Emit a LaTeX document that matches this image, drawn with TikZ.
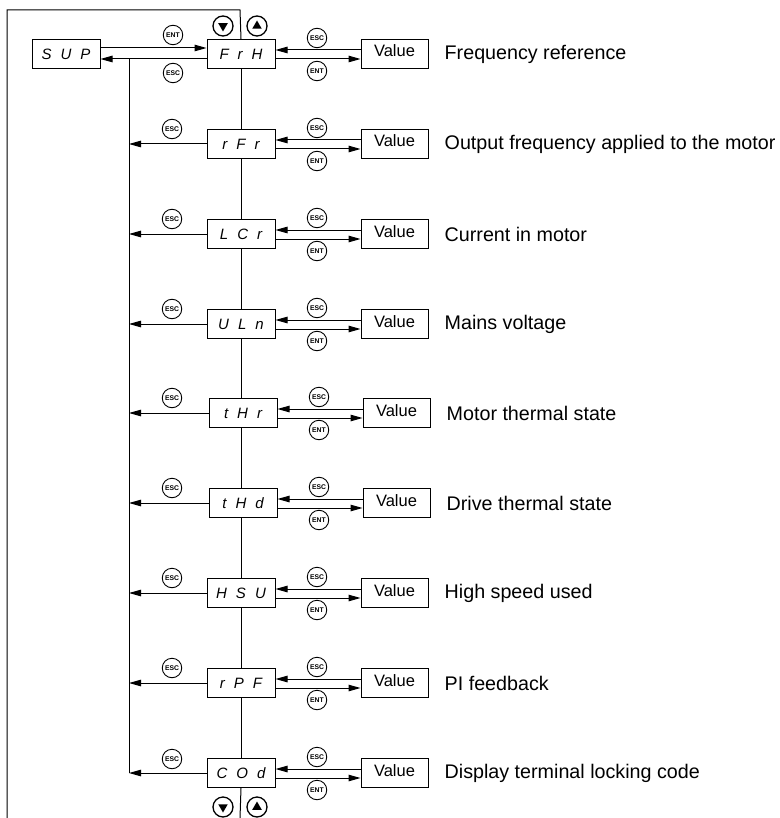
\documentclass[tikz,border=0pt]{standalone}
\usepackage{fontspec}
\setmainfont{Liberation Sans}
\usetikzlibrary{positioning, arrows.meta, shapes.geometric}

\tikzset{
  codebox/.style={draw, line width=1pt, minimum width=68pt, minimum height=29pt, inner sep=0pt,
    font=\fontsize{15}{15}\selectfont\itshape},
  valbox/.style={draw, line width=1pt, minimum width=67pt, minimum height=29pt, inner sep=0pt,
    text height=12pt, text depth=6pt, font=\fontsize{16.5}{17}\selectfont, right=85pt of #1},
  infotext/.style={anchor=west, inner sep=0pt, font=\fontsize{19.7}{20}\selectfont, right=16pt of #1},
  keybtn/.style={draw, circle, line width=0.9pt, minimum size=19.5pt, inner sep=0pt,
    font=\fontsize{6.8}{7}\selectfont\bfseries},
  navbtn/.style={draw, circle, line width=1.3pt, minimum size=20pt, inner sep=0pt},
  navtip/.style={regular polygon, regular polygon sides=3, fill, draw=none, inner sep=0pt, minimum size=11pt},
  arr/.style={-{Triangle[length=12pt,width=6.5pt]}, line width=1pt},
  wire/.style={line width=1pt}
}
\newcommand{\segs}[3]{#1\hspace{0.6em}#2\hspace{0.6em}#3}

\begin{document}
\begin{tikzpicture}[x=1pt, y=-1pt]
    \useasboundingbox (0,0) rectangle (779,818);

    % ----------------------------------------------------
    % Code boxes on the spine
    % ----------------------------------------------------
    \node[codebox] (sup) at (66,54) {\segs SUP};
    \node[codebox] (frh) at (241,54) {\segs FrH};
    \node[codebox] (rfr) at (241,144) {\segs rFr};
    \node[codebox] (lcr) at (241,234) {\segs LCr};
    \node[codebox] (uln) at (241,324) {\segs ULn};
    \node[codebox] (thr) at (243,413) {\segs tHr};
    \node[codebox] (thd) at (243,503) {\segs tHd};
    \node[codebox] (hsu) at (241,593) {\segs HSU};
    \node[codebox] (rpf) at (241,683) {\segs rPF};
    \node[codebox] (cod) at (241,773) {\segs COd};

    % Value boxes and descriptions
    \node[valbox=frh] (valfrh) {Value};
    \node[valbox=rfr] (valrfr) {Value};
    \node[valbox=lcr] (vallcr) {Value};
    \node[valbox=uln] (valuln) {Value};
    \node[valbox=thr] (valthr) {Value};
    \node[valbox=thd] (valthd) {Value};
    \node[valbox=hsu] (valhsu) {Value};
    \node[valbox=rpf] (valrpf) {Value};
    \node[valbox=cod] (valcod) {Value};

    \node[infotext=valfrh] (txtfrh) {Frequency reference};
    \node[infotext=valrfr] (txtrfr) {Output frequency applied to the motor};
    \node[infotext=vallcr] (txtlcr) {Current in motor};
    \node[infotext=valuln] (txtuln) {Mains voltage};
    \node[infotext=valthr] (txtthr) {Motor thermal state};
    \node[infotext=valthd] (txtthd) {Drive thermal state};
    \node[infotext=valhsu] (txthsu) {High speed used};
    \node[infotext=valrpf] (txtrpf) {PI feedback};
    \node[infotext=valcod] (txtcod) {Display terminal locking code};

    % ----------------------------------------------------
    % Frame, spine and ESC return line
    % ----------------------------------------------------
    \coordinate (frametl) at (7,10);
    \coordinate (framebl) at (7,818);
    \coordinate (spinetop) at (240,10);
    \coordinate (spinebot) at (240,818);
    \coordinate (trunktop) at (129,59);
    \coordinate (trunkbot) at (129,773);

    \draw[wire] (framebl) -- (frametl) -- (spinetop) -- (frh.north);
    \draw[wire] (frh.south) -- (rfr.north);
    \draw[wire] (rfr.south) -- (lcr.north);
    \draw[wire] (lcr.south) -- (uln.north);
    \draw[wire] (uln.south) -- (uln.south |- thr.north);
    \draw[wire] (uln.south |- thr.south) -- (uln.south |- thd.north);
    \draw[wire] (uln.south |- thd.south) -- (hsu.north);
    \draw[wire] (hsu.south) -- (rpf.north);
    \draw[wire] (rpf.south) -- (cod.north);
    \draw[wire] (cod.south) -- (spinebot);
    \draw[wire] (trunktop) -- (trunkbot);

    % SUP <-> FrH
    \draw[arr] ([yshift=6pt]sup.east) -- ([yshift=6pt]frh.west);
    \draw[arr] ([yshift=-5pt]frh.west) -- ([yshift=-5pt]sup.east);
    \node[keybtn] (entsup) at (173,35) {ENT};
    \node[keybtn] (escsup) at (173,73) {ESC};

    % ESC back to the return line
    \draw[arr] (rfr.west) -- (rfr.west -| trunktop);
    \draw[arr] (lcr.west) -- (lcr.west -| trunktop);
    \draw[arr] (uln.west) -- (uln.west -| trunktop);
    \draw[arr] (thr.west) -- (thr.west -| trunktop);
    \draw[arr] (thd.west) -- (thd.west -| trunktop);
    \draw[arr] (hsu.west) -- (hsu.west -| trunktop);
    \draw[arr] (rpf.west) -- (rpf.west -| trunktop);
    \draw[arr] (cod.west) -- (cod.west -| trunktop);
    \node[keybtn] (backrfr) at (172,129) {ESC};
    \node[keybtn] (backlcr) at (172,219) {ESC};
    \node[keybtn] (backuln) at (172,309) {ESC};
    \node[keybtn] (backthr) at (172,398) {ESC};
    \node[keybtn] (backthd) at (172,488) {ESC};
    \node[keybtn] (backhsu) at (172,578) {ESC};
    \node[keybtn] (backrpf) at (172,668) {ESC};
    \node[keybtn] (backcod) at (172,759) {ESC};

    % ----------------------------------------------------
    % Code <-> Value
    % ----------------------------------------------------
    \draw[arr] ([yshift=4pt]valfrh.west) -- ([yshift=4pt]frh.east);
    \draw[arr] ([yshift=-5pt]frh.east) -- ([yshift=-5pt]valfrh.west);
    \draw[arr] ([yshift=4pt]valrfr.west) -- ([yshift=4pt]rfr.east);
    \draw[arr] ([yshift=-5pt]rfr.east) -- ([yshift=-5pt]valrfr.west);
    \draw[arr] ([yshift=4pt]vallcr.west) -- ([yshift=4pt]lcr.east);
    \draw[arr] ([yshift=-5pt]lcr.east) -- ([yshift=-5pt]vallcr.west);
    \draw[arr] ([yshift=4pt]valuln.west) -- ([yshift=4pt]uln.east);
    \draw[arr] ([yshift=-5pt]uln.east) -- ([yshift=-5pt]valuln.west);
    \draw[arr] ([yshift=4pt]valthr.west) -- ([yshift=4pt]thr.east);
    \draw[arr] ([yshift=-5pt]thr.east) -- ([yshift=-5pt]valthr.west);
    \draw[arr] ([yshift=4pt]valthd.west) -- ([yshift=4pt]thd.east);
    \draw[arr] ([yshift=-5pt]thd.east) -- ([yshift=-5pt]valthd.west);
    \draw[arr] ([yshift=4pt]valhsu.west) -- ([yshift=4pt]hsu.east);
    \draw[arr] ([yshift=-5pt]hsu.east) -- ([yshift=-5pt]valhsu.west);
    \draw[arr] ([yshift=4pt]valrpf.west) -- ([yshift=4pt]rpf.east);
    \draw[arr] ([yshift=-5pt]rpf.east) -- ([yshift=-5pt]valrpf.west);
    \draw[arr] ([yshift=4pt]valcod.west) -- ([yshift=4pt]cod.east);
    \draw[arr] ([yshift=-5pt]cod.east) -- ([yshift=-5pt]valcod.west);

    \node[keybtn] (escfrh) at (317,38) {ESC};  \node[keybtn] (entfrh) at (317,71) {ENT};
    \node[keybtn] (escrfr) at (317,128) {ESC}; \node[keybtn] (entrfr) at (317,161) {ENT};
    \node[keybtn] (esclcr) at (317,218) {ESC}; \node[keybtn] (entlcr) at (317,251) {ENT};
    \node[keybtn] (esculn) at (317,308) {ESC}; \node[keybtn] (entuln) at (317,341) {ENT};
    \node[keybtn] (escthr) at (319,397) {ESC}; \node[keybtn] (entthr) at (319,430) {ENT};
    \node[keybtn] (escthd) at (319,487) {ESC}; \node[keybtn] (entthd) at (319,520) {ENT};
    \node[keybtn] (eschsu) at (317,577) {ESC}; \node[keybtn] (enthsu) at (317,610) {ENT};
    \node[keybtn] (escrpf) at (317,667) {ESC}; \node[keybtn] (entrpf) at (317,700) {ENT};
    \node[keybtn] (esccod) at (317,757) {ESC}; \node[keybtn] (entcod) at (317,790) {ENT};

    % ----------------------------------------------------
    % Up / down keys
    % ----------------------------------------------------
    \node[navbtn] (dntop) at (223,26) {};
    \node[navbtn] (uptop) at (257,26) {};
    \node[navbtn] (dnbot) at (223,807) {};
    \node[navbtn] (upbot) at (257,807) {};
    \node[navtip, shape border rotate=180] at (dntop) {};
    \node[navtip] at (uptop) {};
    \node[navtip, shape border rotate=180] at (dnbot) {};
    \node[navtip] at (upbot) {};
\end{tikzpicture}
\end{document}
